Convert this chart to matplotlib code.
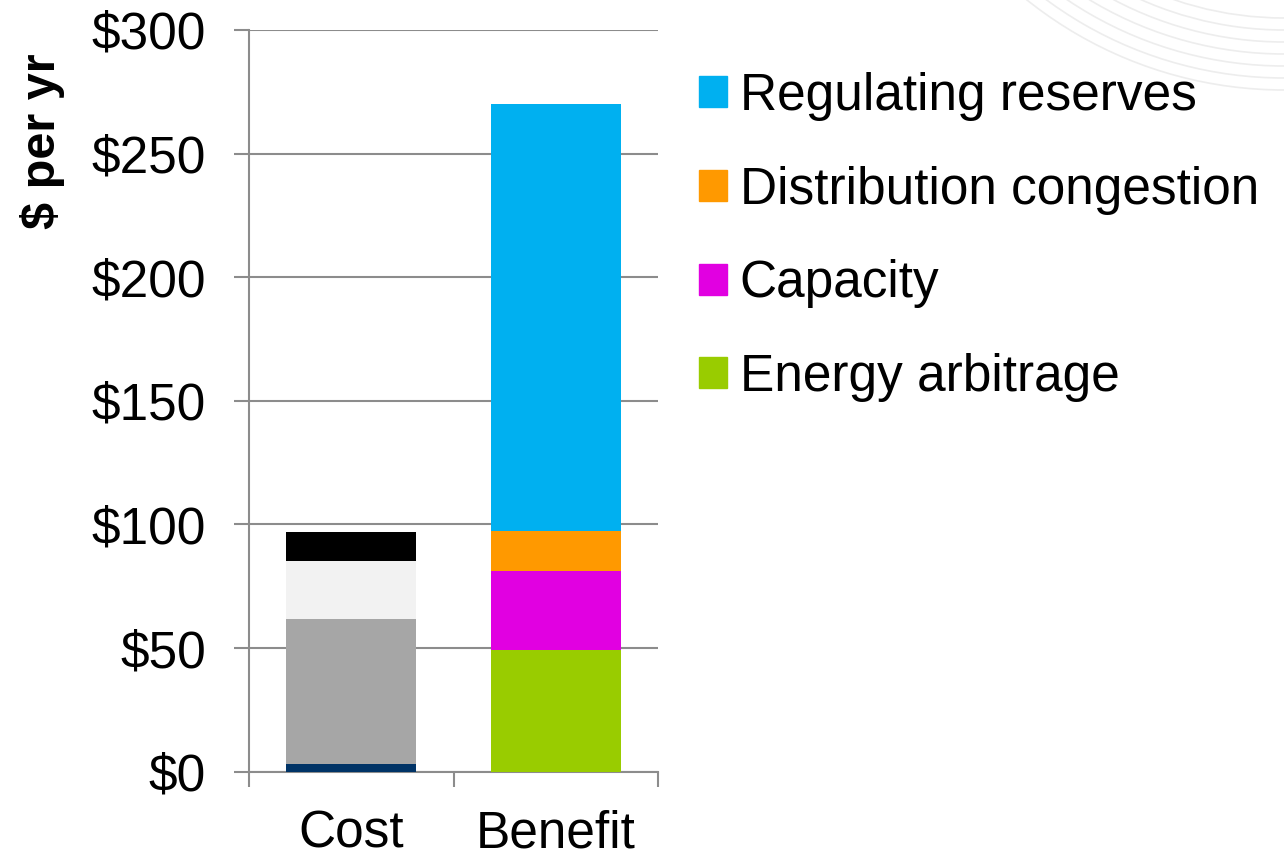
import numpy as np
import matplotlib
matplotlib.use("Agg")
from matplotlib import pyplot as plt
from matplotlib.patches import Patch, Arc

plt.rcParams['font.family'] = ['Liberation Sans', 'DejaVu Sans']

categories = ['Cost', 'Benefit']

# cost components (bottom -> top)
cost_parts = [3.1, 58.6, 23.5, 11.7]
cost_colors = ['#003366', '#a6a6a6', '#f2f2f2', '#000000']

# benefit components (bottom -> top)
benefit_names = ['Energy arbitrage', 'Capacity', 'Distribution congestion', 'Regulating reserves']
benefit_parts = [49.2, 31.9, 16.2, 172.6]
benefit_colors = ['#99cc00', '#e100e1', '#ff9900', '#00b0f0']

yticks = [0, 50, 100, 150, 200, 250, 300]
ytick_labels = ['$0', '$50', '$100', '$150', '$200', '$250', '$300']

fig = plt.figure(figsize=(12.84, 8.57), dpi=100)

# faint decorative arcs in the top right corner (background swirl)
for r in np.arange(3.40, 4.13, 0.12):
    fig.patches.append(Arc((12.84, 11.79), 2 * r, 2 * r, theta1=180, theta2=300,
                           transform=fig.dpi_scale_trans, color='#ededed', lw=1.2))

ax = fig.add_axes([0.194, 0.0995, 0.3185, 0.8655])

w = 0.636
bottom = 0
for v, c in zip(cost_parts, cost_colors):
    ax.bar(0, v, w, bottom=bottom, color=c, zorder=3)
    bottom += v

handles = []
bottom = 0
for name, v, c in zip(benefit_names, benefit_parts, benefit_colors):
    ax.bar(1, v, w, bottom=bottom, color=c, zorder=3, label=name)
    handles.append(Patch(color=c, label=name))
    bottom += v

ax.set_xlim(-0.5, 1.5)
ax.set_ylim(0, 300)
ax.set_yticks(yticks)
ax.set_yticklabels(ytick_labels, fontsize=37)
ax.set_xticks([0, 1])
ax.set_xticklabels(categories, fontsize=37)
ax.set_xticks([-0.5, 0.5, 1.5], minor=True)
ax.tick_params(axis='x', which='major', length=0, pad=27)
ax.tick_params(axis='x', which='minor', length=11, width=1.5, color='#8c8c8c')
ax.tick_params(axis='y', which='major', length=11, width=1.5, color='#8c8c8c', pad=20)

ax.grid(axis='y', color='#8c8c8c', lw=1.5, zorder=0)
ax.set_axisbelow(True)
for s in ['top', 'right']:
    ax.spines[s].set_visible(False)
for s in ['left', 'bottom']:
    ax.spines[s].set_color('#8c8c8c')
    ax.spines[s].set_linewidth(1.5)

ax.set_ylabel('$ per yr', fontsize=35, fontweight='bold')
ax.yaxis.set_label_coords(-0.45, 0.85)

fig.legend(handles=handles[::-1], loc='upper left', bbox_to_anchor=(0.528, 0.94),
           fontsize=37, frameon=False, handlelength=0.55, handleheight=0.55,
           handletextpad=0.25, labelspacing=0.87, borderaxespad=0)

fig.savefig('out.png', dpi=100)
